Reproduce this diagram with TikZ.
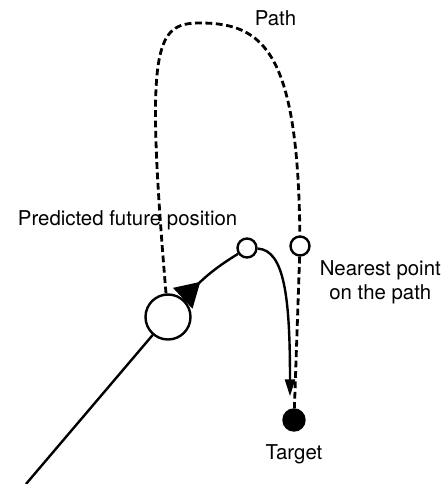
\documentclass[tikz,border=0pt]{standalone}
\usepackage{fontspec}
\setmainfont{TeX Gyre Heros}
\usetikzlibrary{arrows.meta,positioning,decorations.markings}

\begin{document}
\begin{tikzpicture}[x=0.5pt,y=0.5pt,line width=1.2pt,
  ring/.style={circle,draw,fill=white,inner sep=0pt},
  note/.style={inner sep=0pt,font=\fontsize{10.2}{12}\selectfont},
  course/.style={dash pattern=on 3.4pt off 1.8pt,line width=1.4pt}]
  \useasboundingbox (0,0) rectangle (447,484);
  \coordinate (start) at (26,0);
  \node[ring,minimum size=22.5pt] (pos) at (168,167) {};
  \node[ring,minimum size=9.5pt] (future) at (247,236) {};
  \node[ring,minimum size=9.5pt] (nearest) at (300,238) {};
  \node[circle,draw,fill=black,inner sep=0pt,minimum size=10.5pt] (target) at (294,64) {};

  % the path to follow
  \draw[course] (pos) .. controls (145,440) and (155,461) .. (200,461)
    .. controls (265,461) and (298,430) .. (nearest);
  \draw[course] (nearest) -- (target);

  % motion
  \draw (start) -- (pos);
  \draw[postaction={decorate},
    decoration={markings,mark=at position 12pt with {\arrow{Triangle[length=12pt,width=14pt]}}}]
    (pos) to[bend left=8] (future);
  \draw[-{Triangle[length=8.5pt,width=5pt]},shorten >=6pt]
    (future) .. controls (285,234) and (290,184) .. ([xshift=-2pt]target.north);

  \node[note,anchor=base] (pathlabel) at (275.5,459) {Path};
  \node[note,above left=4.4pt and 0.5pt of future] (futurelabel) {Predicted future position};
  \node[note,align=center,below right=3pt and 5.5pt of nearest] (nearestlabel) {Nearest point\\on the path};
  \node[note,below=5.75pt of target] (targetlabel) {Target};
\end{tikzpicture}
\end{document}
